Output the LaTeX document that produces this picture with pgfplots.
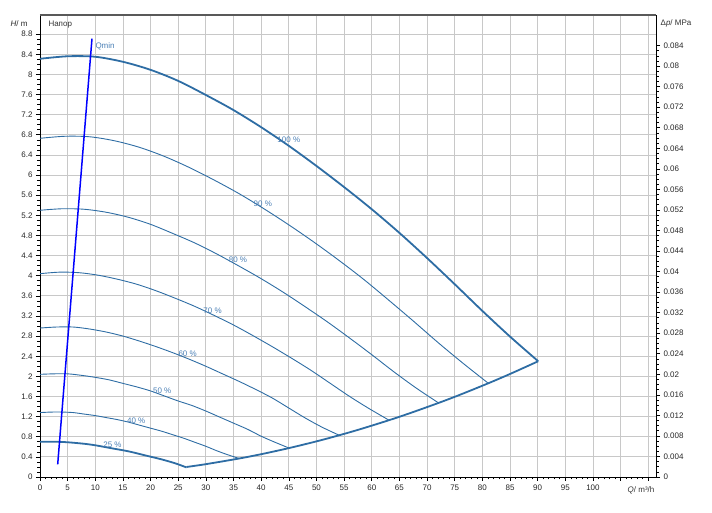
\documentclass[border=0pt]{standalone}
\usepackage{fontspec}
\setmainfont{Liberation Sans}
\usepackage{pgfplots}
\pgfplotsset{compat=1.18}
\definecolor{curve}{HTML}{2E6DA4}
\definecolor{lbl}{HTML}{4A7FB5}
\definecolor{gridc}{HTML}{C8C8C8}
\begin{document}
\begin{tikzpicture}[font=\fontsize{8}{9}\selectfont]
\pgfplotsset{
  base/.style={scale only axis, width=616pt, height=462pt, xmin=0, xmax=111.4, ymin=0,
    clip mode=individual,
    tick align=outside, major tick length=4pt, minor tick length=2.5pt,
    every tick/.style={black, line width=0.6pt},
    tick label style={font=\fontsize{8}{9}\selectfont, black!85},
    /pgf/number format/assume math mode=true,
    axis line style={black, line width=0.8pt}},
  thin/.style={curve, line width=0.9pt, smooth},
  thick/.style={curve, line width=1.8pt, smooth},
}
\begin{axis}[base, ymax=9.18,
  xtick={0,5,10,15,20,25,30,35,40,45,50,55,60,65,70,75,80,85,90,95,100,105,110},
  xticklabels={0,5,10,15,20,25,30,35,40,45,50,55,60,65,70,75,80,85,90,95,100,,},
  minor x tick num=4,
  ytick={0,0.4,0.8,1.2,1.6,2,2.4,2.8,3.2,3.6,4,4.4,4.8,5.2,5.6,6,6.4,6.8,7.2,7.6,8,8.4,8.8},
  yticklabel style={/pgf/number format/.cd, fixed, precision=1},
  minor y tick num=3,
  xtick pos=bottom, ytick pos=left,
  grid=major, major grid style={gridc, line width=0.8pt},
]
% 100 %
\addplot[thick] coordinates {(0,8.31)(5,8.36)(10,8.35)(15,8.25)(20,8.09)(25,7.87)(30,7.59)(35,7.29)(40,6.95)(45,6.58)(50,6.18)(55,5.76)(60,5.32)(65,4.85)(70,4.35)(75,3.83)(80,3.30)(85,2.79)(90.1,2.30)};
% 90 %
\addplot[thin] coordinates {(0,6.73)(4.5,6.77)(9,6.76)(13.5,6.68)(18,6.55)(22.5,6.37)(27,6.15)(31.5,5.90)(36,5.63)(40.5,5.33)(45,5.01)(49.5,4.67)(54,4.31)(58.5,3.93)(63,3.52)(67.5,3.10)(72,2.67)(76.5,2.26)(81.1,1.86)};
% 80 %
\addplot[thin] coordinates {(0,5.30)(4,5.33)(8,5.32)(12,5.26)(16,5.16)(20,5.02)(24,4.84)(28,4.65)(32,4.43)(36,4.19)(40,3.94)(44,3.67)(48,3.38)(52,3.08)(56,2.76)(60,2.43)(64,2.09)(68,1.77)(72.1,1.47)};
% 70 %
\addplot[thin] coordinates {(0,4.04)(3.5,4.07)(7,4.06)(10.5,4.01)(14,3.93)(17.5,3.83)(21,3.70)(24.5,3.55)(28,3.39)(31.5,3.21)(35,3.02)(38.5,2.81)(42,2.59)(45.5,2.36)(49,2.12)(52.5,1.86)(56,1.60)(59.5,1.36)(63.1,1.13)};
% 60 %
\addplot[thin] coordinates {(0,2.96)(3,2.98)(6,2.98)(9,2.94)(12,2.88)(15,2.80)(18,2.70)(21,2.59)(24,2.47)(27,2.34)(30,2.20)(33,2.05)(36,1.90)(39,1.74)(42,1.57)(45,1.37)(48,1.17)(51,0.99)(54.1,0.83)};
% 50 %
\addplot[thin] coordinates {(0,2.04)(2.5,2.05)(5,2.05)(7.5,2.02)(10,1.98)(12.5,1.93)(15,1.86)(17.5,1.79)(20,1.71)(22.5,1.61)(25,1.51)(27.5,1.42)(30,1.31)(32.5,1.19)(35,1.07)(37.5,0.95)(40,0.81)(42.5,0.69)(45.05,0.575)};
% 40 %
\addplot[thin] coordinates {(0,1.28)(2,1.29)(4,1.29)(6,1.28)(8,1.25)(10,1.22)(12,1.18)(14,1.14)(16,1.09)(18,1.03)(20,0.97)(22,0.91)(24,0.84)(26,0.77)(28,0.69)(30,0.61)(32,0.52)(34,0.44)(36.04,0.368)};
% 25 %
\addplot[thick] coordinates {(0,0.70)(3,0.70)(5,0.69)(8,0.66)(10,0.63)(13,0.57)(16,0.51)(19,0.43)(22,0.35)(24.5,0.27)(26.5,0.19)};
% boundary
\addplot[thick] coordinates {(26.5,0.199)(30,0.255)(36.04,0.368)(40,0.453)(45.05,0.575)(50,0.708)(54.06,0.828)(58,0.953)(63.07,1.127)(67,1.272)(72.08,1.472)(76,1.636)(81.09,1.863)(85,2.047)(90.1,2.30)};
% Qmin
\addplot[blue, line width=1.5pt] coordinates {(3.2,0.25)(9.4,8.71)};
\node[lbl, anchor=west] at (axis cs:9.4,8.56) {Qmin};
\node[lbl] at (axis cs:45.0,6.70) {100 \%};
\node[lbl] at (axis cs:40.3,5.43) {90 \%};
\node[lbl] at (axis cs:35.8,4.32) {80 \%};
\node[lbl] at (axis cs:31.2,3.30) {70 \%};
\node[lbl] at (axis cs:26.7,2.45) {60 \%};
\node[lbl] at (axis cs:22.1,1.72) {50 \%};
\node[lbl] at (axis cs:17.4,1.11) {40 \%};
\node[lbl] at (axis cs:13.1,0.65) {25 \%};
\node[anchor=west, black!80] at (axis cs:0.9,8.98) {Напор};
\node[black!85] at (axis cs:0,9.18) [xshift=-21pt, yshift=-8.3pt] {\textit{H}/ m};
\node[black!80] at (axis cs:108.7,0) [yshift=-13.4pt] {\textit{Q}/ m³/h};
\draw[black!65, line width=1.2pt] (rel axis cs:0,1) -- (rel axis cs:1,1);
\coordinate (bl) at (rel axis cs:0,0);
\coordinate (tr) at (rel axis cs:1,1);
\end{axis}
\begin{axis}[base, ymax=0.08995, axis x line=none, axis y line*=right,
  ytick={0,0.004,0.008,0.012,0.016,0.02,0.024,0.028,0.032,0.036,0.04,0.044,0.048,0.052,0.056,0.06,0.064,0.068,0.072,0.076,0.08,0.084},
  yticklabel style={/pgf/number format/.cd, fixed, precision=3},
  minor y tick num=3, ytick pos=right,
  scaled y ticks=false,
]
\node[black!80] at (rel axis cs:1,1) [xshift=20pt, yshift=-8.3pt] {Δ\textit{p}/ MPa};
\end{axis}
\path ([shift={(-40pt,-36pt)}]bl) rectangle ([shift={(56pt,15pt)}]tr);
\end{tikzpicture}
\end{document}
